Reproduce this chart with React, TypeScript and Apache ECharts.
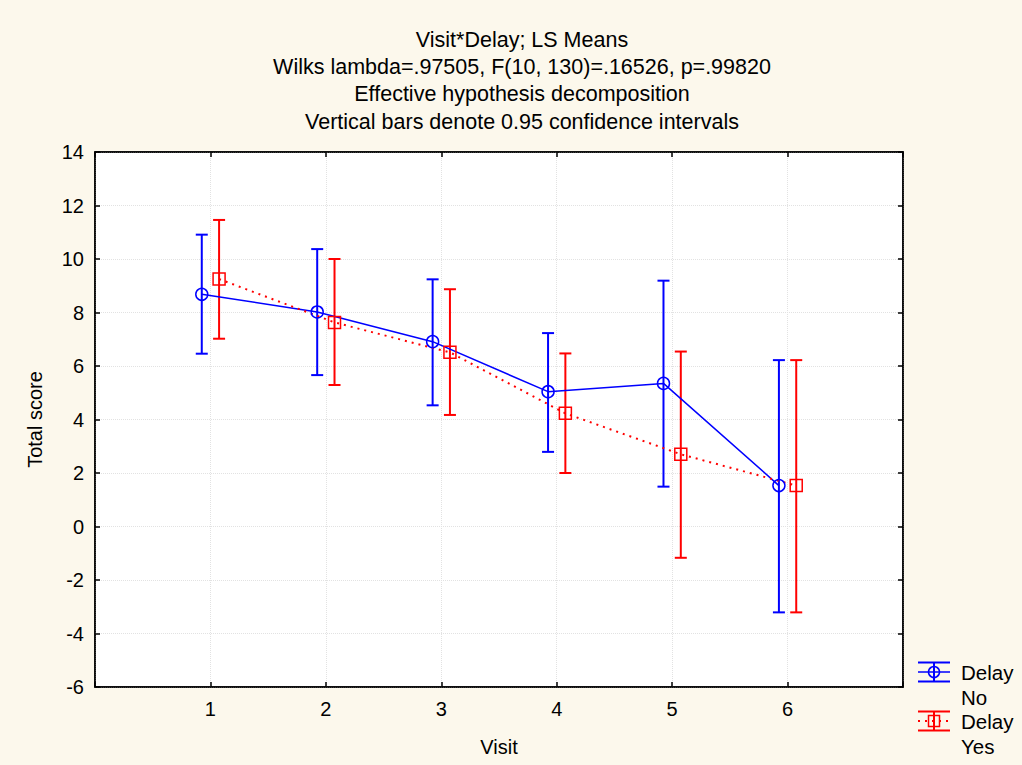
import React, { useEffect, useRef } from "react";
import * as echarts from "echarts";

// LS means and 0.95 confidence limits of the total score per visit
const visits = [1, 2, 3, 4, 5, 6];
const noMeans = [8.68, 8.02, 6.91, 5.04, 5.35, 1.53];
const noLower = [6.46, 5.66, 4.53, 2.79, 1.49, -3.21];
const noUpper = [10.91, 10.37, 9.24, 7.23, 9.19, 6.22];
const yesMeans = [9.25, 7.63, 6.51, 4.23, 2.7, 1.53];
const yesLower = [7.02, 5.29, 4.17, 2.0, -1.17, -3.21];
const yesUpper = [11.46, 10.0, 8.87, 6.47, 6.54, 6.22];

const titleLines = [
  "Visit*Delay; LS Means",
  "Wilks lambda=.97505, F(10, 130)=.16526, p=.99820",
  "Effective hypothesis decomposition",
  "Vertical bars denote 0.95 confidence intervals",
];
const yTicks = { min: -6, max: 14, step: 2 };

const FONT = "'Liberation Sans', Arial, sans-serif";
const BLUE = "#0000ff";
const RED = "#ff0000";
const SHIFT = 0.075; // horizontal dodge of the two groups around each visit
const CAP = 6;

function errorBars(color: string) {
  return (params: any, api: any) => {
    const x = api.value(0);
    const lo = api.coord([x, api.value(1)]);
    const hi = api.coord([x, api.value(2)]);
    const st = { stroke: color, lineWidth: 2 };
    return {
      type: "group",
      children: [
        { type: "line", shape: { x1: lo[0], y1: lo[1], x2: hi[0], y2: hi[1] }, style: st },
        { type: "line", shape: { x1: lo[0] - CAP, y1: lo[1], x2: lo[0] + CAP, y2: lo[1] }, style: st },
        { type: "line", shape: { x1: hi[0] - CAP, y1: hi[1], x2: hi[0] + CAP, y2: hi[1] }, style: st },
      ],
    };
  };
}

function legendItem(y: number, color: string, dotted: boolean, square: boolean, l1: string, l2: string) {
  const cx = 934;
  const st = { stroke: color, lineWidth: 2 };
  const mid: any = dotted
    ? { type: "line", shape: { x1: 918, y1: y, x2: 950, y2: y }, style: { stroke: color, lineWidth: 2, lineDash: [2, 5] } }
    : { type: "line", shape: { x1: 918, y1: y, x2: 950, y2: y }, style: { stroke: color, lineWidth: 1.5 } };
  const marker = square
    ? { type: "rect", shape: { x: cx - 5.5, y: y - 5.5, width: 11, height: 11 }, style: { fill: "transparent", stroke: color, lineWidth: 1.5 } }
    : { type: "circle", shape: { cx, cy: y, r: 5.5 }, style: { fill: "transparent", stroke: color, lineWidth: 1.5 } };
  return [
    { type: "line", shape: { x1: 918, y1: y - 9.5, x2: 950, y2: y - 9.5 }, style: st },
    { type: "line", shape: { x1: 918, y1: y + 9.5, x2: 950, y2: y + 9.5 }, style: st },
    { type: "line", shape: { x1: cx, y1: y - 9.5, x2: cx, y2: y + 9.5 }, style: st },
    mid,
    marker,
    { type: "text", x: 961, y, style: { text: l1, fontSize: 20.5, fontFamily: FONT, fill: "#000", verticalAlign: "middle" } },
    { type: "text", x: 961, y: y + 25, style: { text: l2, fontSize: 20.5, fontFamily: FONT, fill: "#000", verticalAlign: "middle" } },
  ];
}

export default function App() {
  const ref = useRef<HTMLDivElement>(null);

  useEffect(() => {
    const chart = echarts.init(ref.current!, null, { renderer: "svg" });

    const axisLine = { show: true, onZero: false, lineStyle: { color: "#000", width: 1.5 } };
    const axisTick = { show: true, inside: true, length: 5, lineStyle: { color: "#000", width: 1.5 } };
    const grid = { show: true, lineStyle: { type: "dotted", color: "#e2e2e2", width: 1 } };
    const labelStyle = { color: "#000", fontSize: 20, fontFamily: FONT };

    chart.setOption({
      animation: false,
      backgroundColor: "#fcf8ec",
      title: {
        text: titleLines.join("\n"),
        left: 517,
        top: 21,
        textAlign: "center",
        textStyle: { fontSize: 21.5, fontWeight: "normal", fontFamily: FONT, color: "#000", lineHeight: 27.3 },
      },
      grid: { left: 95, top: 152, right: 119, bottom: 78, show: true, backgroundColor: "#fff", borderColor: "#000", borderWidth: 1.5 },
      xAxis: [
        {
          type: "value",
          min: 0,
          max: 7,
          interval: 1,
          position: "bottom",
          axisLine,
          axisTick,
          splitLine: grid,
          axisLabel: { ...labelStyle, margin: 12, formatter: (v: number) => (v >= 1 && v <= 6 ? String(v) : "") },
          name: "Visit",
          nameLocation: "middle",
          nameGap: 50,
          nameTextStyle: labelStyle,
        },
        {
          type: "value",
          min: 0,
          max: 7,
          interval: 1,
          position: "top",
          axisLine,
          axisTick,
          splitLine: { show: false },
          axisLabel: { show: false },
        },
      ],
      yAxis: [
        {
          type: "value",
          min: yTicks.min,
          max: yTicks.max,
          interval: yTicks.step,
          position: "left",
          axisLine,
          axisTick,
          splitLine: grid,
          axisLabel: { ...labelStyle, margin: 11 },
          name: "Total score",
          nameLocation: "middle",
          nameGap: 50,
          nameTextStyle: labelStyle,
        },
        {
          type: "value",
          min: yTicks.min,
          max: yTicks.max,
          interval: yTicks.step,
          position: "right",
          axisLine,
          axisTick,
          splitLine: { show: false },
          axisLabel: { show: false },
        },
      ],
      series: [
        {
          name: "Delay No CI",
          type: "custom",
          renderItem: errorBars(BLUE),
          data: visits.map((v, i) => [v - SHIFT, noLower[i], noUpper[i]]),
          encode: { x: 0, y: [1, 2] },
          z: 2,
        },
        {
          name: "Delay Yes CI",
          type: "custom",
          renderItem: errorBars(RED),
          data: visits.map((v, i) => [v + SHIFT, yesLower[i], yesUpper[i]]),
          encode: { x: 0, y: [1, 2] },
          z: 2,
        },
        {
          name: "Delay No",
          type: "line",
          data: visits.map((v, i) => [v - SHIFT, noMeans[i]]),
          symbol: "circle",
          symbolSize: 12,
          lineStyle: { color: BLUE, width: 1.5 },
          itemStyle: { color: "transparent", borderColor: BLUE, borderWidth: 1.5 },
          z: 3,
        },
        {
          name: "Delay Yes",
          type: "line",
          data: visits.map((v, i) => [v + SHIFT, yesMeans[i]]),
          symbol: "rect",
          symbolSize: 12,
          lineStyle: { color: RED, width: 2, type: [2, 5] },
          itemStyle: { color: "transparent", borderColor: RED, borderWidth: 1.5 },
          z: 3,
        },
      ],
      graphic: [
        ...legendItem(672, BLUE, false, false, "Delay", "No"),
        ...legendItem(721, RED, true, true, "Delay", "Yes"),
      ],
    });

    return () => chart.dispose();
  }, []);

  return <div ref={ref} style={{ position: "fixed", left: 0, top: 0, width: 1022, height: 765 }} />;
}
